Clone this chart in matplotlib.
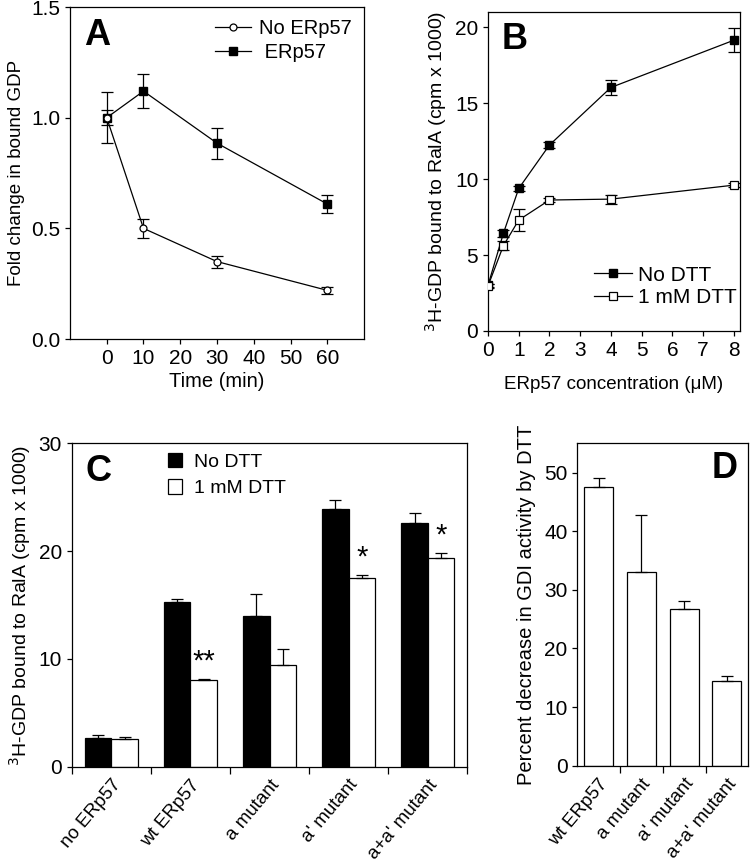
import matplotlib

matplotlib.use("Agg")
import matplotlib.pyplot as plt
import numpy as np

plt.rcParams["font.family"] = ["Liberation Sans", "DejaVu Sans"]
plt.rcParams["font.size"] = 14
plt.rcParams["xtick.labelsize"] = 15
plt.rcParams["ytick.labelsize"] = 15
plt.rcParams["axes.linewidth"] = 0.9
plt.rcParams["xtick.major.width"] = 0.9
plt.rcParams["ytick.major.width"] = 0.9
plt.rcParams["xtick.minor.width"] = 0.9

# panel A: GDP release time course
time_min = [0, 10, 30, 60]
no_erp57 = [1.0, 0.50, 0.35, 0.22]
no_erp57_err = [0.033, 0.042, 0.027, 0.015]
erp57 = [1.0, 1.12, 0.885, 0.61]
erp57_err = [0.115, 0.076, 0.07, 0.04]

# panel B: ERp57 dose response
conc_um = [0, 0.5, 1, 2, 4, 8]
b_no_dtt = [3.0, 6.42, 9.38, 12.24, 16.03, 19.14]
b_no_dtt_err = [0.1, 0.25, 0.15, 0.2, 0.47, 0.78]
b_dtt = [2.96, 5.61, 7.3, 8.62, 8.68, 9.6]
b_dtt_err = [0.1, 0.3, 0.73, 0.15, 0.3, 0.12]

# panel C: mutants with / without DTT
c_labels = ["no ERp57", "wt ERp57", "a mutant", "a' mutant", "a+a' mutant"]
c_no_dtt = [2.69, 15.25, 14.0, 23.9, 22.58]
c_no_dtt_err = [0.25, 0.35, 2.0, 0.84, 0.92]
c_dtt = [2.57, 8.04, 9.4, 17.53, 19.39]
c_dtt_err = [0.21, 0.12, 1.55, 0.27, 0.46]
c_stars = ["", "**", "", "*", "*"]

# panel D: percent decrease
d_labels = ["wt ERp57", "a mutant", "a' mutant", "a+a' mutant"]
d_values = [47.5, 33.0, 26.74, 14.45]
d_err = [1.65, 9.8, 1.3, 0.85]

fig = plt.figure(figsize=(7.54, 8.68), dpi=100)

ax_a = fig.add_axes([0.0928, 0.6094, 0.390, 0.3825])
ax_b = fig.add_axes([0.6472, 0.6187, 0.3342, 0.3675])
ax_c = fig.add_axes([0.0951, 0.1167, 0.5247, 0.3726])
ax_d = fig.add_axes([0.7656, 0.1179, 0.2268, 0.3714])

err_kw = dict(ecolor="black", elinewidth=0.9, capsize=4, capthick=0.9)

# --- A ---
ea1 = ax_a.errorbar(time_min, no_erp57, yerr=no_erp57_err, color="black", lw=0.9,
                    marker="o", ms=5, mfc="white", mec="black", mew=0.9,
                    zorder=3, **err_kw)
ea2 = ax_a.errorbar(time_min, erp57, yerr=erp57_err, color="black", lw=0.9,
                    marker="s", ms=5.5, mfc="black", mec="black",
                    zorder=2, **err_kw)
ax_a.set_xlim(-10, 70)
ax_a.set_ylim(0, 1.5)
ax_a.set_xticks(range(0, 61, 10))
ax_a.set_yticks([0, 0.5, 1.0, 1.5])
ax_a.set_yticklabels(["0.0", "0.5", "1.0", "1.5"])
ax_a.set_xlabel("Time (min)", fontsize=14.5, labelpad=3)
ax_a.set_ylabel("Fold change in bound GDP", fontsize=13.5)
ax_a.legend([ea1[0], ea2[0]], ["No ERp57", " ERp57"], loc="upper right",
            frameon=False, fontsize=14.5, handlelength=1.8, handletextpad=0.4,
            borderaxespad=0.2, labelspacing=0.25)
ax_a.text(0.094, 0.913, "A", transform=ax_a.transAxes, fontsize=26,
          fontweight="bold", ha="center", va="center")

# --- B ---
eb1 = ax_b.errorbar(conc_um, b_no_dtt, yerr=b_no_dtt_err, color="black", lw=0.9,
                    marker="s", ms=5.5, mfc="black", mec="black",
                    zorder=2, **err_kw)
eb2 = ax_b.errorbar(conc_um, b_dtt, yerr=b_dtt_err, color="black", lw=0.9,
                    marker="s", ms=5.5, mfc="white", mec="black", mew=0.9,
                    zorder=3, **err_kw)
ax_b.set_xlim(0, 8.2)
ax_b.set_ylim(0, 21)
ax_b.set_xticks(range(0, 9))
ax_b.set_yticks([0, 5, 10, 15, 20])
ax_b.set_xlabel("ERp57 concentration (\u03bcM)", fontsize=13.5, labelpad=12)
ax_b.set_ylabel("$^{3}$H-GDP bound to RalA (cpm x 1000)", fontsize=14)
ax_b.legend([eb1[0], eb2[0]], ["No DTT", "1 mM DTT"], loc="lower right",
            frameon=False, fontsize=15, handlelength=1.8, handletextpad=0.3,
            borderaxespad=0.3, labelspacing=0.15, bbox_to_anchor=(1.045, 0.03))
ax_b.text(0.105, 0.915, "B", transform=ax_b.transAxes, fontsize=26,
          fontweight="bold", ha="center", va="center")

# --- C ---
xc = np.arange(len(c_labels))
w = 0.335
ax_c.bar(xc - w / 2, c_no_dtt, w, color="black", edgecolor="black", lw=0.9,
         yerr=[np.zeros(len(xc)), c_no_dtt_err], label="No DTT", error_kw=err_kw)
ax_c.bar(xc + w / 2, c_dtt, w, color="white", edgecolor="black", lw=0.9,
         yerr=[np.zeros(len(xc)), c_dtt_err], label="1 mM DTT", error_kw=err_kw)
for i, s in enumerate(c_stars):
    if s:
        ax_c.text(xc[i] + w / 2, c_dtt[i] + c_dtt_err[i] + 1.6, s, ha="center",
                  va="center", fontsize=21)
ax_c.set_xlim(-0.5, 4.5)
ax_c.set_ylim(0, 30)
ax_c.set_yticks([0, 10, 20, 30])
ax_c.set_xticks(xc)
ax_c.set_xticklabels(c_labels, rotation=50, ha="right", rotation_mode="anchor",
                     fontsize=13.5)
ax_c.tick_params(axis="x", which="major", length=0, pad=7)
ax_c.set_xticks(np.arange(-0.5, 4.6, 1), minor=True)
ax_c.tick_params(axis="x", which="minor", length=5)
ax_c.set_ylabel("$^{3}$H-GDP bound to RalA (cpm x 1000)", fontsize=14)
ax_c.legend(loc="upper left", frameon=False, fontsize=14, handlelength=0.7,
            handleheight=0.75, handletextpad=0.6, labelspacing=0.45,
            bbox_to_anchor=(0.2, 1.025))
ax_c.text(0.068, 0.913, "C", transform=ax_c.transAxes, fontsize=26,
          fontweight="bold", ha="center", va="center")

# --- D ---
xd = np.arange(len(d_labels))
ax_d.bar(xd, d_values, 0.68, color="white", edgecolor="black", lw=0.9,
         yerr=[np.zeros(len(xd)), d_err], error_kw=err_kw)
ax_d.set_xlim(-0.5, 3.5)
ax_d.set_ylim(0, 55)
ax_d.set_yticks([0, 10, 20, 30, 40, 50])
ax_d.set_xticks(xd)
ax_d.set_xticklabels(d_labels, rotation=50, ha="right", rotation_mode="anchor",
                     fontsize=13.5)
ax_d.tick_params(axis="x", which="major", length=0, pad=7)
ax_d.set_xticks(np.arange(0.5, 3.0, 1), minor=True)
ax_d.tick_params(axis="x", which="minor", length=5)
ax_d.set_ylabel("Percent decrease in GDI activity by DTT", fontsize=14.5,
                labelpad=6)
ax_d.text(0.864, 0.923, "D", transform=ax_d.transAxes, fontsize=26,
          fontweight="bold", ha="center", va="center")

fig.savefig("out.png", dpi=100)
